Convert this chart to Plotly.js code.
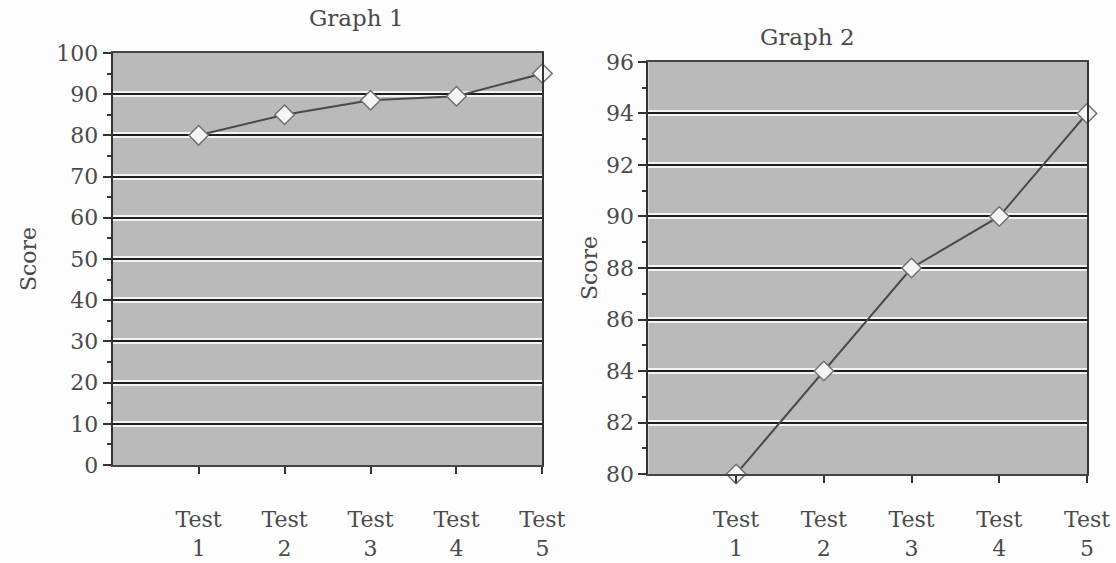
<!DOCTYPE html>
<html>
<head>
<meta charset="utf-8">
<script src="https://cdn.plot.ly/plotly-3.0.1.min.js"></script>
<style>html,body{margin:0;padding:0;background:#fdfdfd;}#chart{width:1116px;height:563px;}</style>
</head>
<body>
<div id="chart"></div>
<script>
const categories = ['Test 1', 'Test 2', 'Test 3', 'Test 4', 'Test 5'];
const graph1Scores = [80, 85, 88.5, 89.5, 95];
const graph2Scores = [80, 84, 88, 90, 94];
const graphTitles = ['Graph 1', 'Graph 2'];
const yTitle = 'Score';

const tickText = categories.map(c => c.replace(' ', '<br>'));
const FONT = 'DejaVu Serif, Liberation Serif, serif';
const TXT = '#4a4a4a';

function trace(y, xa, ya) {
  return {
    x: categories, y: y, xaxis: xa, yaxis: ya, type: 'scatter', mode: 'lines+markers',
    cliponaxis: false,
    line: {color: '#4a4a4a', width: 2},
    marker: {symbol: 'diamond', size: 15, color: '#f4f4f4', line: {color: '#707070', width: 1.5}},
    hoverinfo: 'x+y'
  };
}

function helper(xa, ya) {
  return {x: [], y: [], xaxis: xa, yaxis: ya, type: 'scatter', mode: 'lines', hoverinfo: 'skip', showlegend: false};
}

function xAxis(domain, anchor, standoff) {
  return {
    domain: domain, anchor: anchor, type: 'category', range: [-1, 4],
    tickvals: categories, ticktext: tickText,
    showgrid: false, zeroline: false,
    ticks: 'outside', ticklen: 7, tickwidth: 2, tickcolor: '#333',
    showline: true, linecolor: '#444', linewidth: 2, mirror: true,
    tickfont: {family: FONT, size: 22, color: TXT},
    ticklabelstandoff: standoff
  };
}

function yAxis(domain, anchor, range, dtick, minor, standoff) {
  return {
    domain: domain, anchor: anchor, range: range, dtick: dtick, tick0: range[0],
    showgrid: true, gridcolor: '#f3f3f3', gridwidth: 6, zeroline: false,
    ticks: 'outside', ticklen: 8, tickwidth: 2, tickcolor: '#333',
    minor: {dtick: minor, ticks: 'outside', ticklen: 4, tickcolor: '#333', showgrid: false},
    showline: true, linecolor: '#333', linewidth: 2, mirror: true,
    tickfont: {family: FONT, size: 22, color: TXT},
    title: {text: yTitle, font: {family: FONT, size: 22, color: TXT}, standoff: standoff}
  };
}

function gridAxis(domain, anchor, over, range, dtick) {
  return {
    domain: domain, anchor: anchor, overlaying: over, range: range, dtick: dtick, tick0: range[0],
    showgrid: true, gridcolor: '#1e1e1e', gridwidth: 2, zeroline: false,
    showticklabels: false, ticks: '', showline: false
  };
}

const d1x = [0.101, 0.486], d1y = [0.174, 0.906];
const d2x = [0.581, 0.974], d2y = [0.158, 0.890];

const data = [
  helper('x', 'y3'), helper('x2', 'y4'),
  trace(graph1Scores, 'x', 'y'), trace(graph2Scores, 'x2', 'y2')
];

const layout = {
  width: 1116, height: 563,
  margin: {l: 0, r: 0, t: 0, b: 0},
  paper_bgcolor: '#fdfdfd', plot_bgcolor: '#bababa',
  showlegend: false,
  xaxis: xAxis(d1x, 'y', 27),
  yaxis: yAxis(d1y, 'x', [0, 100], 10, 5, 14),
  xaxis2: xAxis(d2x, 'y2', 18),
  yaxis2: yAxis(d2y, 'x2', [80, 96], 2, 1, 2),
  yaxis3: gridAxis(d1y, 'x', 'y', [0, 100], 10),
  yaxis4: gridAxis(d2y, 'x2', 'y2', [80, 96], 2),
  annotations: [
    {text: graphTitles[0], xref: 'paper', yref: 'paper', x: 0.275, y: 0.968, yanchor: 'middle', showarrow: false,
     font: {family: FONT, size: 23, color: TXT}},
    {text: graphTitles[1], xref: 'paper', yref: 'paper', x: 0.768, y: 0.934, yanchor: 'middle', showarrow: false,
     font: {family: FONT, size: 23, color: TXT}}
  ]
};

Plotly.newPlot('chart', data, layout, {displayModeBar: false, staticPlot: true});
</script>
</body>
</html>
